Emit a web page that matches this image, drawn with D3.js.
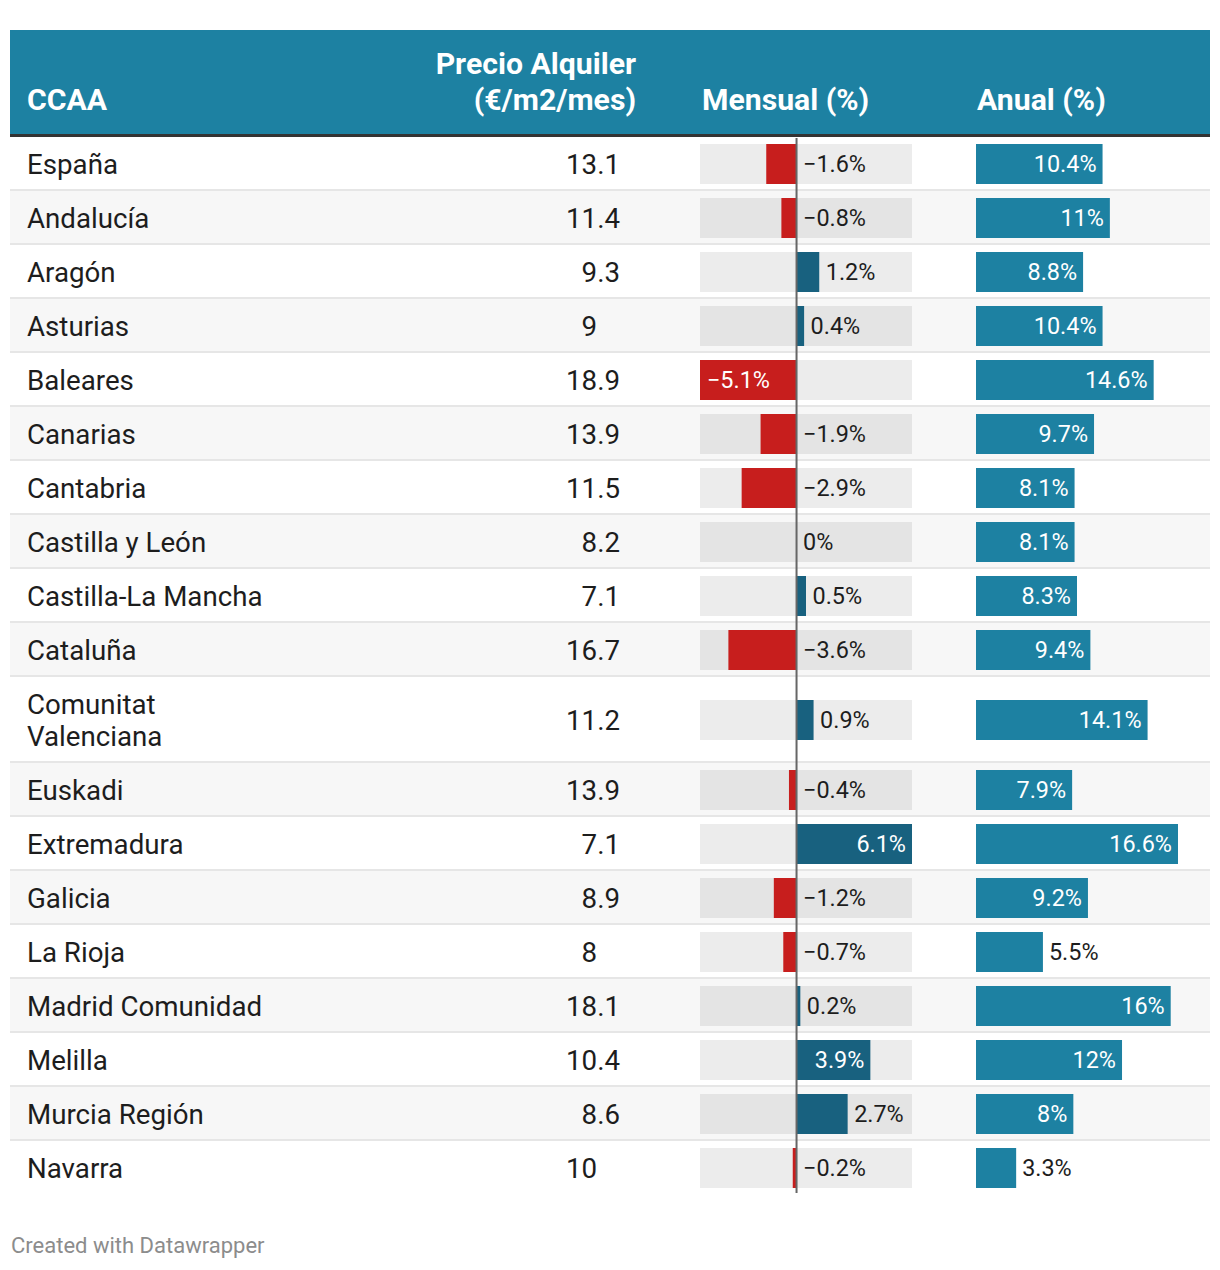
<!DOCTYPE html>
<html><head><meta charset="utf-8">
<script src="https://cdn.jsdelivr.net/npm/d3@7"></script>
<style>
html,body{margin:0;padding:0;background:#fff;}
svg text{font-family:Roboto,"Noto Sans",sans-serif;}
</style></head>
<body><svg id="chart" width="1220" height="1270"></svg>
<script>
const headers = ["CCAA", ["Precio Alquiler", "(€/m2/mes)"], "Mensual (%)", "Anual (%)"];
const regions = ["España","Andalucía","Aragón","Asturias","Baleares","Canarias","Cantabria","Castilla y León","Castilla-La Mancha","Cataluña","Comunitat Valenciana","Euskadi","Extremadura","Galicia","La Rioja","Madrid Comunidad","Melilla","Murcia Región","Navarra"];
const precio = [13.1,11.4,9.3,9,18.9,13.9,11.5,8.2,7.1,16.7,11.2,13.9,7.1,8.9,8,18.1,10.4,8.6,10];
const mensual = [-1.6,-0.8,1.2,0.4,-5.1,-1.9,-2.9,0,0.5,-3.6,0.9,-0.4,6.1,-1.2,-0.7,0.2,3.9,2.7,-0.2];
const anual = [10.4,11,8.8,10.4,14.6,9.7,8.1,8.1,8.3,9.4,14.1,7.9,16.6,9.2,5.5,16,12,8,3.3];
const footer = "Created with Datawrapper";

const svg = d3.select("#chart");
const left = 10, right = 1210;
const headTop = 30, headBottom = 134, borderH = 4;
const bodyTop = headBottom + borderH - 1;
const rowH = 54, lineH = 32;
const teal = "#1d81a2", red = "#c71e1d", dark = "#18617f";
const txt = "#1d1d1d";
const bodyFont = 27.7, headFont = 30.2, labelFont = 23.4;
const fmt = v => (String(v) + "%").replace("-", "\u2212");

// header
svg.append("rect").attr("x", left).attr("y", headTop).attr("width", right-left).attr("height", headBottom-headTop).attr("fill", teal);
svg.append("rect").attr("x", left).attr("y", headBottom).attr("width", right-left).attr("height", borderH).attr("fill", "#333");
const hg = svg.append("g").attr("fill", "#fff").attr("font-weight", 700).attr("font-size", headFont);
hg.append("text").attr("x", 27).attr("y", 110).text(headers[0]);
headers[1].forEach((t,i)=> hg.append("text").attr("x", 636).attr("y", 74 + i*36).attr("text-anchor","end").text(t));
hg.append("text").attr("x", 702).attr("y", 110).text(headers[2]);
hg.append("text").attr("x", 977).attr("y", 110).text(headers[3]);

// wrap names
const measure = svg.append("text").attr("font-size", bodyFont).attr("visibility","hidden");
const maxW = 252;
const nameLines = regions.map(n => {
  measure.text(n);
  if (measure.node().getComputedTextLength() <= maxW) return [n];
  const words = n.split(" "); const lines = []; let cur = "";
  words.forEach(w => { const t = cur ? cur + " " + w : w; measure.text(t);
    if (measure.node().getComputedTextLength() > maxW && cur) { lines.push(cur); cur = w; } else cur = t; });
  lines.push(cur); return lines;
});
measure.remove();

const rows = []; let y = bodyTop;
regions.forEach((n,i) => { const h = rowH + (nameLines[i].length-1)*lineH; rows.push({i, top:y, h, c:y+h/2}); y += h; });
const bodyBottom = y;

const xm = d3.scaleLinear().domain(d3.extent(mensual)).range([700, 912]);
const xa = d3.scaleLinear().domain([0, d3.max(anual)]).range([976, 1178]);

const body = svg.append("g");
rows.forEach(r => {
  const g = body.append("g");
  g.append("rect").attr("x", left).attr("y", r.top).attr("width", right-left).attr("height", r.h).attr("fill", r.i%2 ? "#f7f7f7" : "#fff");
  if (r.i > 0) g.append("rect").attr("x", left).attr("y", r.top-2).attr("width", right-left).attr("height", 2).attr("fill", "#e6e6e6");
  // name
  const lines = nameLines[r.i];
  const t = g.append("text").attr("font-size", bodyFont).attr("fill", txt);
  lines.forEach((l,k) => t.append("tspan").attr("x", 27).attr("y", r.c + 10 - (lines.length-1)*lineH/2 + k*lineH).text(l));
  // precio, decimal aligned
  const pv = precio[r.i];
  const pt = g.append("text").attr("font-size", bodyFont).attr("fill", txt).attr("x", 620).attr("y", r.c + 10).attr("text-anchor", "end");
  pt.append("tspan").text(String(pv));
  if (Number.isInteger(pv)) pt.append("tspan").attr("fill-opacity", 0).text(".0");
  // mensual
  const mv = mensual[r.i];
  g.append("rect").attr("x", xm.range()[0]).attr("y", r.c-20).attr("width", xm.range()[1]-xm.range()[0]).attr("height", 40).attr("fill", "rgba(0,0,0,0.075)");
  const x0 = xm(0), x1 = xm(mv);
  g.append("rect").attr("x", Math.min(x0,x1)).attr("y", r.c-20).attr("width", Math.abs(x1-x0)).attr("height", 40).attr("fill", mv < 0 ? red : dark);
  const mw = Math.abs(x1-x0);
  const ml = g.append("text").attr("font-size", labelFont).attr("y", r.c + 8).text(fmt(mv));
  if (mw > 70) {
    if (mv > 0) ml.attr("x", x1 - 6).attr("text-anchor","end").attr("fill","#fff");
    else ml.attr("x", x1 + 7).attr("fill","#fff");
  } else {
    ml.attr("x", (mv > 0 ? x1 : x0) + 6.5).attr("fill", txt);
  }
  // anual
  const av = anual[r.i];
  const aw = xa(av) - xa(0);
  g.append("rect").attr("x", xa(0)).attr("y", r.c-20).attr("width", aw).attr("height", 40).attr("fill", teal);
  const al = g.append("text").attr("font-size", labelFont).attr("y", r.c + 8).text(fmt(av));
  if (aw > 80) al.attr("x", xa(av) - 6).attr("text-anchor","end").attr("fill","#fff");
  else al.attr("x", xa(av) + 6).attr("fill", txt);
});

// zero line
svg.append("rect").attr("x", xm(0)-1).attr("y", bodyTop+1).attr("width", 2).attr("height", bodyBottom - bodyTop - 3).attr("fill", "#666");

svg.append("text").attr("x", 11).attr("y", 1253).attr("font-size", 22).attr("fill", "#8c8c8c").text(footer);
</script></body></html>
